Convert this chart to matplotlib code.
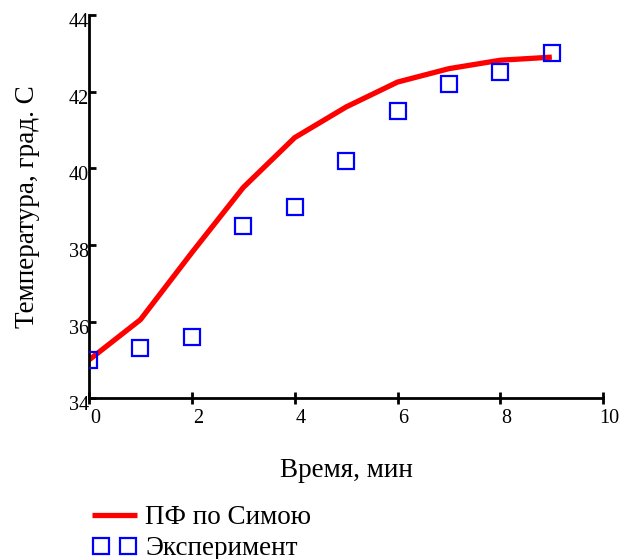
import matplotlib
matplotlib.use('Agg')
import matplotlib.pyplot as plt
from matplotlib.transforms import ScaledTranslation
from matplotlib.legend_handler import HandlerLine2D

# time, min
t = [0, 1, 2, 3, 4, 5, 6, 7, 8, 9]
# model curve (ПФ по Симою)
model = [35.0, 36.05, 37.8, 39.5, 40.8, 41.6, 42.25, 42.6, 42.82, 42.9]
# experiment points
experiment = [35.0, 35.3, 35.6, 38.5, 39.0, 40.2, 41.5, 42.2, 42.5, 43.0]

xticks = [0, 2, 4, 6, 8, 10]
yticks = [34, 36, 38, 40, 42, 44]

plt.rcParams['font.family'] = ['Liberation Serif', 'DejaVu Serif']

fig = plt.figure(figsize=(6.2, 5.59), dpi=100)
ax = fig.add_axes([0.1435, 0.2875, 0.8295, 0.6857])

line, = ax.plot(t, model, color='#ff0000', lw=3.8, solid_capstyle='butt',
                label='ПФ по Симою', zorder=2)
pts, = ax.plot(t, experiment, ls='none', marker='s', ms=11, mfc='none',
               mec='#0000ff', mew=1.6, label='Эксперимент', zorder=3)

ax.set_xlim(0, 10)
ax.set_ylim(34, 44)
ax.set_xticks(xticks)
ax.set_yticks(yticks)
for s in ('top', 'right'):
    ax.spines[s].set_visible(False)
for s in ('left', 'bottom'):
    ax.spines[s].set_linewidth(2)
ax.tick_params(axis='x', direction='inout', length=9, width=2, labelsize=14.5, pad=3)
ax.tick_params(axis='y', direction='in', length=5, width=2, labelsize=14.5, pad=0)

# Mathcad-style label offsets
for lab in ax.get_xticklabels():
    lab.set_transform(lab.get_transform() + ScaledTranslation(0.06, 0, fig.dpi_scale_trans))
for lab in ax.get_yticklabels():
    lab.set_transform(lab.get_transform() + ScaledTranslation(0, -0.05, fig.dpi_scale_trans))

ax.set_xlabel('Время, мин', fontsize=19.5, labelpad=22)
ax.set_ylabel('Температура, град. С', fontsize=19.5, labelpad=21)

fig.legend(handles=[line, pts], loc='upper left', bbox_to_anchor=(0.144, 0.096),
           frameon=False, fontsize=19.5, handlelength=1.87, handletextpad=0.2,
           numpoints=2, labelspacing=0.22, borderpad=0, borderaxespad=0,
           handler_map={line: HandlerLine2D(marker_pad=0.1),
                        pts: HandlerLine2D(marker_pad=0.45)})

fig.savefig('out.png', dpi=100)
